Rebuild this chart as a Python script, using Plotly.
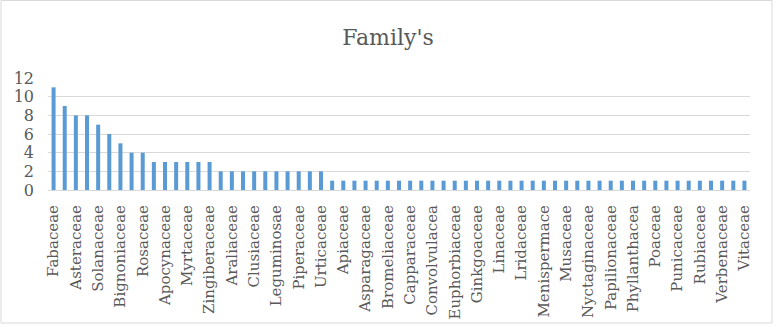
import plotly.graph_objects as go

families = [
    "Fabaceae", "Lamiaceae", "Asteraceae", "Cucurbitaceae", "Solanaceae", "Meliaceae",
    "Bignoniaceae", "Amaryllidaceae", "Rosaceae", "Anacardiaceae", "Apocynaceae", "Malvaceae",
    "Myrtaceae", "Rutaceae", "Zingiberaceae", "Amaranthaceae", "Araliaceae", "Brassicaceae",
    "Clusiaceae", "Combretaceae", "Leguminosae", "Moraceae", "Piperaceae", "Sapindaceae",
    "Urticaceae", "Acanthaceae", "Apiaceae", "Arecaceae", "Asparagaceae", "Boraginaceae",
    "Bromeliaceae", "Cannabaceae", "Capparaceae", "Caricaceae", "Convolvulacea", "Cupressaceae",
    "Euphorbiaceae", "Fagaceae", "Ginkgoaceae", "Lauraceae", "Linaceae", "Loganiaceae",
    "Lridaceae", "Malpighiaceae", "Menispermace", "Moringaceae", "Musaceae", "Myristicaceae",
    "Nyctaginaceae", "Oleaceae", "Papilionaceae", "Passifloraceae", "Phyllanthacea", "Plantaginaceae",
    "Poaceae", "Polygonaceae", "Punicaceae", "Ranunculaceae", "Rubiaceae", "Santalaceae",
    "Verbenaceae", "Violaceae", "Vitaceae",
]
counts = [
    11, 9, 8, 8, 7, 6, 5, 4, 4,
    3, 3, 3, 3, 3, 3,
    2, 2, 2, 2, 2, 2, 2, 2, 2, 2,
    1, 1, 1, 1, 1, 1, 1, 1, 1, 1, 1, 1, 1, 1, 1, 1, 1, 1, 1,
    1, 1, 1, 1, 1, 1, 1, 1, 1, 1, 1, 1, 1, 1, 1, 1, 1, 1, 1,
]
shown_labels = families[::2]
y_ticks = [0, 2, 4, 6, 8, 10, 12]
title_text = "Family's"

W, H = 776, 327
ML, MR, MT, MB = 48, 26, 78, 137

FONT = "DejaVu Serif"
GREY = "#595959"

fig = go.Figure(go.Bar(x=families, y=counts, marker_color="#5B9BD5", marker_line_width=0))

pw = W - ML - MR
ph = H - MT - MB
fig.add_shape(
    type="rect", xref="paper", yref="paper",
    x0=(1 - ML) / pw, x1=(772 - ML) / pw,
    y0=(H - MB - 323) / ph, y1=(H - MB - 0.5) / ph,
    line=dict(color="#D9D9D9", width=1), fillcolor="rgba(0,0,0,0)", layer="below",
)

fig.update_layout(
    width=W, height=H,
    margin=dict(l=ML, r=MR, t=MT, b=MB, pad=0, autoexpand=False),
    paper_bgcolor="white", plot_bgcolor="white",
    title=dict(text=title_text, x=0.5, xanchor="center", y=1 - 37 / H, yanchor="middle",
               xref="container", yref="container", automargin=False,
               font=dict(family=FONT, size=22, color=GREY)),
    bargap=0.64,
    showlegend=False,
    xaxis=dict(
        type="category", categoryorder="array", categoryarray=families,
        tickmode="array", tickvals=shown_labels, ticktext=shown_labels,
        tickangle=-90, tickfont=dict(family=FONT, size=15, color=GREY),
        showgrid=False, showline=True, linecolor="#D9D9D9", linewidth=1,
        ticks="", ticklabelstandoff=8, automargin=False,
    ),
    yaxis=dict(
        range=[0, 12], tickvals=y_ticks,
        tickfont=dict(family=FONT, size=16, color=GREY),
        showgrid=True, gridcolor="#D9D9D9", gridwidth=1,
        zeroline=False, showline=False, ticks="", ticklabelstandoff=13,
        automargin=False,
    ),
)

fig.write_html(
    "out.html",
    config={"displayModeBar": False},
    post_script="document.body.style.margin='0';document.body.style.overflow='hidden';",
)
